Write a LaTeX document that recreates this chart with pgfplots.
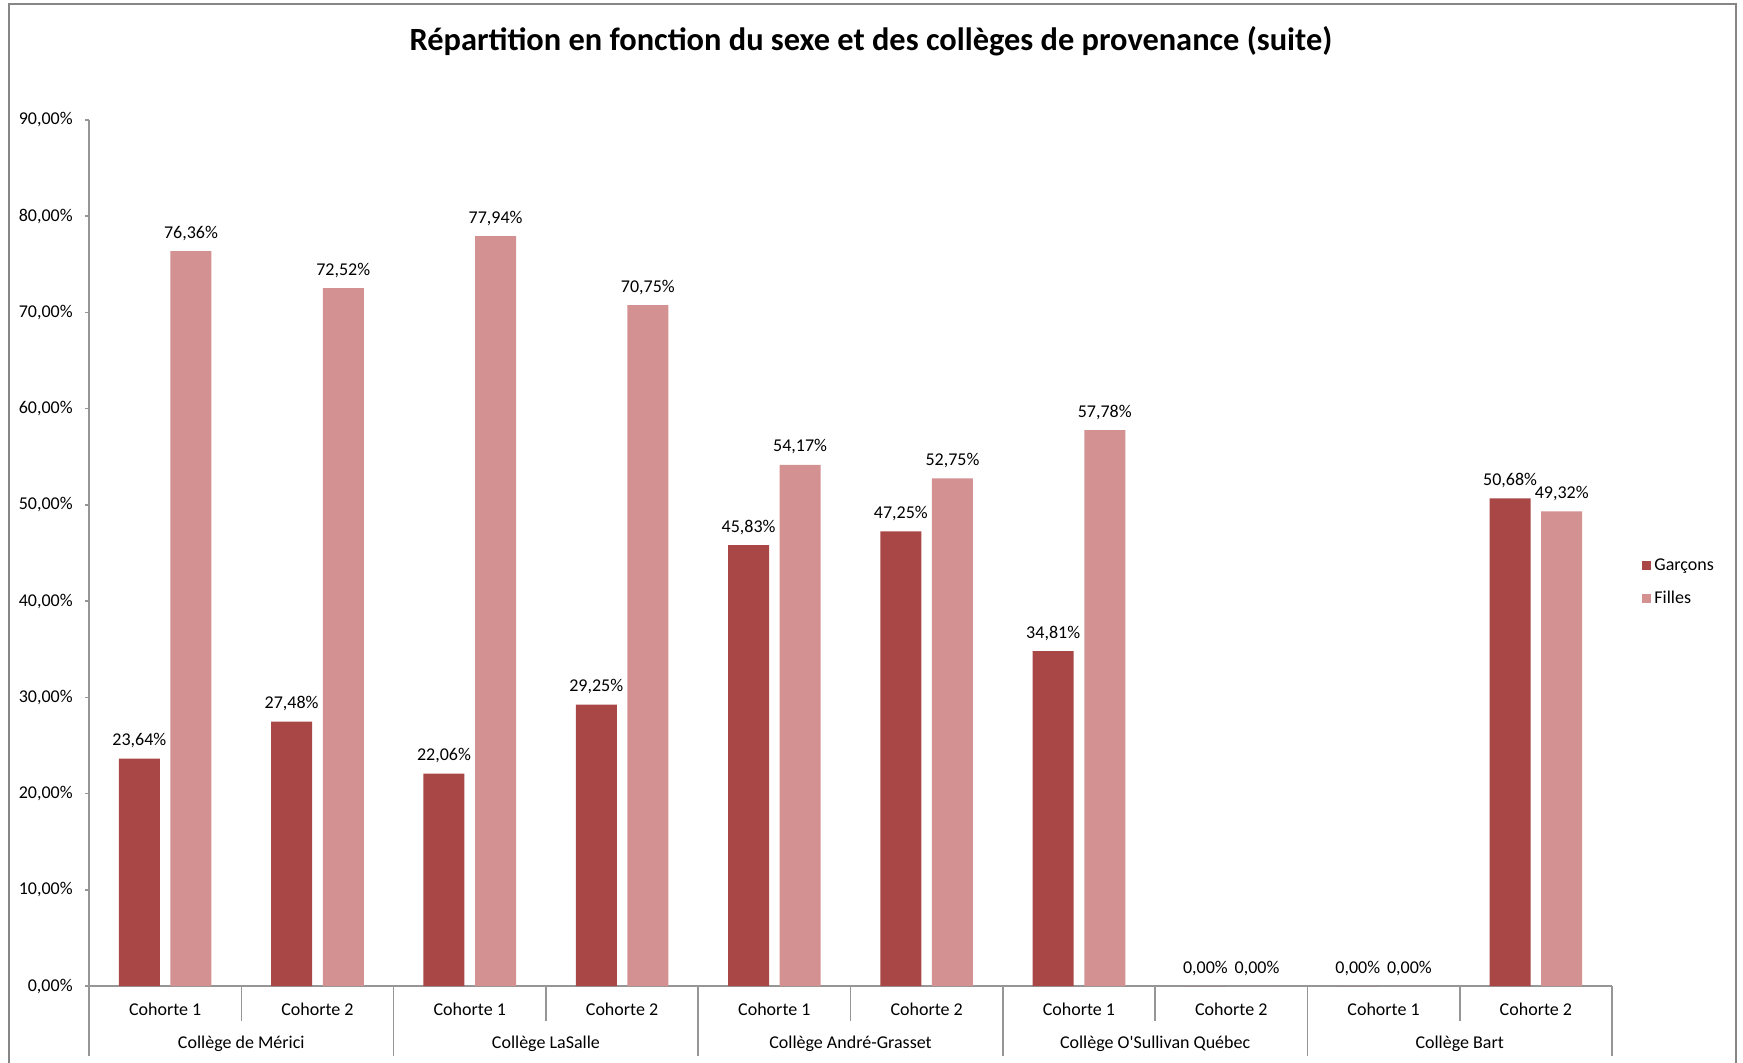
\documentclass[border=0pt]{standalone}
\usepackage{pgfplots}
\pgfplotsset{compat=1.18}
\usepackage{fontspec}
\setmainfont{Carlito}
\definecolor{garcons}{RGB}{169,70,70}
\definecolor{filles}{RGB}{212,145,145}
\definecolor{axisgray}{RGB}{150,150,150}
\definecolor{bordergray}{RGB}{134,134,134}
\newcommand{\smallfont}{\fontsize{9}{10.8}\selectfont}
\begin{document}
\begin{tikzpicture}
\useasboundingbox (-44.5pt,-38pt) rectangle (827pt,493pt);
\draw[bordergray, line width=1pt] (-40pt,-45pt) -- (-40pt,491pt) -- (823.5pt,491pt) -- (823.5pt,-45pt);
\node[font=\bfseries\fontsize{16.2}{19.4}\selectfont] at (391pt,472.5pt) {Répartition en fonction du sexe et des collèges de provenance (suite)};
\begin{axis}[
  at={(0,0)}, anchor=south west,
  width=761.5pt, height=433pt, scale only axis,
  xmin=-0.5, xmax=9.5, ymin=0, ymax=90,
  clip=false,
  axis lines*=left,
  axis line style={axisgray, line width=0.8pt},
  ytick={0,10,...,90},
  xtick={0,...,9},
  xticklabels={Cohorte 1,Cohorte 2,Cohorte 1,Cohorte 2,Cohorte 1,Cohorte 2,Cohorte 1,Cohorte 2,Cohorte 1,Cohorte 2},
  xtick style={draw=none},
  ytick style={axisgray, line width=0.8pt},
  tick align=outside, major tick length=2pt,
  tick label style={font=\smallfont},
  xticklabel style={anchor=base, yshift=-12.8pt},
  yticklabel style={anchor=east, inner sep=0pt, xshift=-6pt},
  yticklabel={\pgfmathprintnumber[fixed,fixed zerofill,precision=2,use comma,assume math mode=true]{\tick}\%},
  nodes near coords={\pgfmathprintnumber[fixed,fixed zerofill,precision=2,use comma,assume math mode=true]{\pgfplotspointmeta}\%},
  nodes near coords style={font=\smallfont, anchor=base, yshift=6.5pt, inner sep=0pt, text=black},
  legend style={at={(1.0197,0.466)}, anchor=west, draw=none, fill=none, inner sep=0pt, font=\smallfont, row sep=6pt, nodes={inner sep=1.5pt}},
  legend cell align=left,
  legend image code/.code={\fill[#1] (0pt,-2.25pt) rectangle (4.5pt,2.25pt);},
]
\addplot[ybar, bar width=20.5pt, bar shift=-12.9pt, fill=garcons, draw=none,
  every node near coord/.append style={xshift=-12.9pt}]
  coordinates {(0,23.64) (1,27.48) (2,22.06) (3,29.25) (4,45.83) (5,47.25) (6,34.81) (7,0) (8,0) (9,50.68)};
\addlegendentry{Garçons}
\addplot[ybar, bar width=20.5pt, bar shift=12.9pt, fill=filles, draw=none,
  every node near coord/.append style={xshift=12.9pt}]
  coordinates {(0,76.36) (1,72.52) (2,77.94) (3,70.75) (4,54.17) (5,52.75) (6,57.78) (7,0) (8,0) (9,49.32)};
\addlegendentry{Filles}
\pgfplotsinvokeforeach{0.5,2.5,4.5,6.5,8.5}{
  \draw[axisgray, line width=0.8pt] (axis cs:#1,0) -- ++(0pt,-17.5pt);
}
\pgfplotsinvokeforeach{-0.5,1.5,3.5,5.5,7.5,9.5}{
  \draw[axisgray, line width=0.8pt] (axis cs:#1,0) -- ++(0pt,-35pt);
}
\node[font=\smallfont, anchor=base] at ([yshift=-31pt]axis cs:0.5,0) {Collège de Mérici};
\node[font=\smallfont, anchor=base] at ([yshift=-31pt]axis cs:2.5,0) {Collège LaSalle};
\node[font=\smallfont, anchor=base] at ([yshift=-31pt]axis cs:4.5,0) {Collège André-Grasset};
\node[font=\smallfont, anchor=base] at ([yshift=-31pt]axis cs:6.5,0) {Collège O\textquotesingle Sullivan Québec};
\node[font=\smallfont, anchor=base] at ([yshift=-31pt]axis cs:8.5,0) {Collège Bart};
\end{axis}
\end{tikzpicture}
\end{document}
